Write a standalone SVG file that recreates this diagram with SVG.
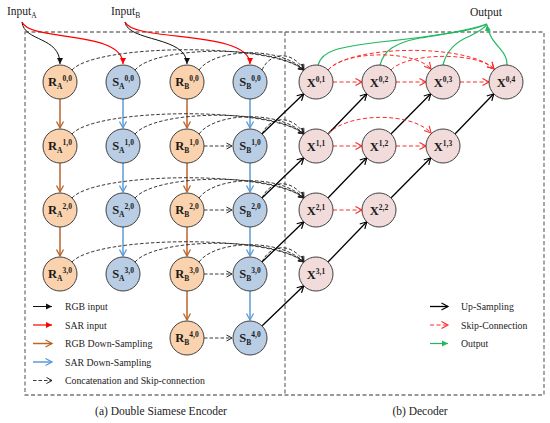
<svg xmlns="http://www.w3.org/2000/svg" width="550" height="423" viewBox="0 0 550 423">
<style>
.frame{fill:none;stroke:#777;stroke-width:1.3;stroke-dasharray:4 2.5}
.nr{fill:#fad3ae;stroke:#404040;stroke-width:1}
.ns{fill:#b9cde5;stroke:#404040;stroke-width:1}
.nx{fill:#f2dcdb;stroke:#404040;stroke-width:1}
.lb{font-family:"Liberation Serif",serif;font-weight:bold;font-size:12.5px;fill:#1a1a1a}
.sm{font-size:7.5px}
.tx{font-family:"Liberation Serif",serif;fill:#222}
.down-r{stroke:#b9652b;stroke-width:1.5;fill:none;marker-end:url(#vbr)}
.down-s{stroke:#5b9bd5;stroke-width:1.5;fill:none;marker-end:url(#vbl)}
.up{stroke:#000;stroke-width:1.3;fill:none;marker-end:url(#vk)}
.cat{stroke:#222;stroke-width:0.9;fill:none;stroke-dasharray:3.5 2;marker-end:url(#vk2)}
.skip{stroke:#ff2a2a;stroke-width:1;fill:none;stroke-dasharray:4 2.5;marker-end:url(#vrd)}
.out{stroke:#22b860;stroke-width:1.2;fill:none}
.inb{stroke:#111;stroke-width:1;fill:none;marker-end:url(#tk)}
.inr{stroke:#ff0000;stroke-width:1.2;fill:none;marker-end:url(#tr)}
</style>
<defs>
<marker id="vk" markerWidth="9" markerHeight="9" refX="7.5" refY="4.5" orient="auto" markerUnits="userSpaceOnUse"><path d="M1,1 L7.5,4.5 L1,8" fill="none" stroke="#000" stroke-width="1.2"/></marker>
<marker id="vk2" markerWidth="9" markerHeight="9" refX="7" refY="4.5" orient="auto" markerUnits="userSpaceOnUse"><path d="M1.5,1.5 L7,4.5 L1.5,7.5" fill="none" stroke="#222" stroke-width="1"/></marker>
<marker id="vbr" markerWidth="9" markerHeight="9" refX="7.5" refY="4.5" orient="auto" markerUnits="userSpaceOnUse"><path d="M1,1 L7.5,4.5 L1,8" fill="none" stroke="#b9652b" stroke-width="1.3"/></marker>
<marker id="vbl" markerWidth="9" markerHeight="9" refX="7.5" refY="4.5" orient="auto" markerUnits="userSpaceOnUse"><path d="M1,1 L7.5,4.5 L1,8" fill="none" stroke="#5b9bd5" stroke-width="1.3"/></marker>
<marker id="vrd" markerWidth="9" markerHeight="9" refX="7.5" refY="4.5" orient="auto" markerUnits="userSpaceOnUse"><path d="M1,1 L7.5,4.5 L1,8" fill="none" stroke="#ff2a2a" stroke-width="1.1"/></marker>
<marker id="tk" markerWidth="8" markerHeight="8" refX="6" refY="3.5" orient="auto" markerUnits="userSpaceOnUse"><path d="M0,0.5 L6,3.5 L0,6.5 z" fill="#111"/></marker>
<marker id="tr" markerWidth="8" markerHeight="8" refX="6" refY="3.5" orient="auto" markerUnits="userSpaceOnUse"><path d="M0,0.5 L6,3.5 L0,6.5 z" fill="#ff0000"/></marker>
<marker id="tg" markerWidth="8" markerHeight="8" refX="6" refY="3.5" orient="auto" markerUnits="userSpaceOnUse"><path d="M0,0.5 L6,3.5 L0,6.5 z" fill="#22b860"/></marker>
</defs>
<rect width="550" height="423" fill="#fff"/>

<g id="frames">
<rect class="frame" x="25" y="32" width="519" height="363"/>
<line class="frame" x1="285" y1="32" x2="285" y2="395"/>
</g>

<g id="connectors">
<!-- inputs -->
<path class="inb" d="M22,22 C24,42 60,36 60,64"/>
<path class="inr" d="M22,22 C30,42 123,30 123,64"/>
<path class="inb" d="M125,22 C128,42 187,36 187,64"/>
<path class="inr" d="M125,22 C133,42 250,30 250,64"/>
<!-- outputs -->
<path class="out" d="M318,65 C322,50 340,47 380,42 C430,37 470,30 487,24"/>
<path class="out" d="M380,65 C384,50 395,43 420,38 C450,33 475,30 487,24"/>
<path class="out" d="M443,65 C446,52 455,42 470,36 C480,31 485,28 487,24"/>
<path class="out" d="M507,65 C508,50 490,45 487,25" marker-end="url(#tg)"/>
<!-- down-sampling -->
<path class="down-r" d="M60,99 V128"/>
<path class="down-r" d="M60,163 V192"/>
<path class="down-r" d="M60,227 V256"/>
<path class="down-s" d="M123,99 V128"/>
<path class="down-s" d="M123,163 V192"/>
<path class="down-s" d="M123,227 V256"/>
<path class="down-r" d="M187,99 V128"/>
<path class="down-r" d="M187,163 V192"/>
<path class="down-r" d="M187,227 V256"/>
<path class="down-r" d="M187,291 V320"/>
<path class="down-s" d="M250,99 V128"/>
<path class="down-s" d="M250,163 V192"/>
<path class="down-s" d="M250,227 V256"/>
<path class="down-s" d="M250,291 V320"/>
<!-- RB -> SB concatenation -->
<path class="cat" d="M204,146 H232"/>
<path class="cat" d="M204,210 H232"/>
<path class="cat" d="M204,274 H232"/>
<path class="cat" d="M204,338 H232"/>
<!-- encoder -> X^{i,1} skip arcs -->
<path class="cat" d="M72,70 C95,44 270,42 304,70"/>
<path class="cat" d="M135,70 C155,46 272,44 304,70"/>
<path class="cat" d="M199,70 C215,48 280,46 304,70"/>
<path class="cat" d="M262,70 C270,52 292,50 304,70"/>
<path class="cat" d="M72,134 C95,108 270,106 304,134"/>
<path class="cat" d="M135,134 C155,110 272,108 304,134"/>
<path class="cat" d="M199,134 C215,112 280,110 304,134"/>
<path class="cat" d="M262,134 C270,116 292,114 304,134"/>
<path class="cat" d="M72,198 C95,172 270,170 304,198"/>
<path class="cat" d="M135,198 C155,174 272,172 304,198"/>
<path class="cat" d="M199,198 C215,176 280,174 304,198"/>
<path class="cat" d="M262,198 C270,180 292,178 304,198"/>
<path class="cat" d="M72,262 C95,236 270,234 304,262"/>
<path class="cat" d="M135,262 C155,238 272,236 304,262"/>
<path class="cat" d="M199,262 C215,240 280,238 304,262"/>
<path class="cat" d="M262,262 C270,244 292,242 304,262"/>
<!-- up-sampling -->
<path class="up" d="M262.2,133.8 L303.8,93.8"/>
<path class="up" d="M262.2,197.8 L303.8,157.8"/>
<path class="up" d="M262.2,261.8 L303.8,221.8"/>
<path class="up" d="M262.2,325.8 L303.8,285.8"/>
<path class="up" d="M328.2,133.8 L366.8,93.8"/>
<path class="up" d="M328.2,197.8 L366.8,157.8"/>
<path class="up" d="M328.2,261.8 L366.8,221.8"/>
<path class="up" d="M391.2,133.8 L430.8,93.8"/>
<path class="up" d="M391.2,197.8 L430.8,157.8"/>
<path class="up" d="M455.2,133.8 L493.8,93.8"/>
<!-- decoder skip -->
<path class="skip" d="M333,82 H362"/>
<path class="skip" d="M396,82 H426"/>
<path class="skip" d="M460,82 H489"/>
<path class="skip" d="M333,146 H362"/>
<path class="skip" d="M396,146 H426"/>
<path class="skip" d="M333,210 H362"/>
<path class="skip" d="M328,70 C345,50 415,50 431,69"/>
<path class="skip" d="M328,70 C352,44 470,44 494,69"/>
<path class="skip" d="M391,70 C408,52 478,52 494,69"/>
<path class="skip" d="M328,134 C348,112 412,112 431,133"/>
</g>

<g id="RA00"><circle class="nr" cx="60" cy="82" r="17"/><text class="lb" x="60" y="86" text-anchor="middle">R<tspan class="sm" dy="3">A</tspan><tspan class="sm" dy="-8">0,0</tspan></text></g>
<g id="RA10"><circle class="nr" cx="60" cy="146" r="17"/><text class="lb" x="60" y="150" text-anchor="middle">R<tspan class="sm" dy="3">A</tspan><tspan class="sm" dy="-8">1,0</tspan></text></g>
<g id="RA20"><circle class="nr" cx="60" cy="210" r="17"/><text class="lb" x="60" y="214" text-anchor="middle">R<tspan class="sm" dy="3">A</tspan><tspan class="sm" dy="-8">2,0</tspan></text></g>
<g id="RA30"><circle class="nr" cx="60" cy="274" r="17"/><text class="lb" x="60" y="278" text-anchor="middle">R<tspan class="sm" dy="3">A</tspan><tspan class="sm" dy="-8">3,0</tspan></text></g>

<g id="SA00"><circle class="ns" cx="123" cy="82" r="17"/><text class="lb" x="123" y="86" text-anchor="middle">S<tspan class="sm" dy="3">A</tspan><tspan class="sm" dy="-8">0,0</tspan></text></g>
<g id="SA10"><circle class="ns" cx="123" cy="146" r="17"/><text class="lb" x="123" y="150" text-anchor="middle">S<tspan class="sm" dy="3">A</tspan><tspan class="sm" dy="-8">1,0</tspan></text></g>
<g id="SA20"><circle class="ns" cx="123" cy="210" r="17"/><text class="lb" x="123" y="214" text-anchor="middle">S<tspan class="sm" dy="3">A</tspan><tspan class="sm" dy="-8">2,0</tspan></text></g>
<g id="SA30"><circle class="ns" cx="123" cy="274" r="17"/><text class="lb" x="123" y="278" text-anchor="middle">S<tspan class="sm" dy="3">A</tspan><tspan class="sm" dy="-8">3,0</tspan></text></g>

<g id="RB00"><circle class="nr" cx="187" cy="82" r="17"/><text class="lb" x="187" y="86" text-anchor="middle">R<tspan class="sm" dy="3">B</tspan><tspan class="sm" dy="-8">0,0</tspan></text></g>
<g id="RB10"><circle class="nr" cx="187" cy="146" r="17"/><text class="lb" x="187" y="150" text-anchor="middle">R<tspan class="sm" dy="3">B</tspan><tspan class="sm" dy="-8">1,0</tspan></text></g>
<g id="RB20"><circle class="nr" cx="187" cy="210" r="17"/><text class="lb" x="187" y="214" text-anchor="middle">R<tspan class="sm" dy="3">B</tspan><tspan class="sm" dy="-8">2,0</tspan></text></g>
<g id="RB30"><circle class="nr" cx="187" cy="274" r="17"/><text class="lb" x="187" y="278" text-anchor="middle">R<tspan class="sm" dy="3">B</tspan><tspan class="sm" dy="-8">3,0</tspan></text></g>
<g id="RB40"><circle class="nr" cx="187" cy="338" r="17"/><text class="lb" x="187" y="342" text-anchor="middle">R<tspan class="sm" dy="3">B</tspan><tspan class="sm" dy="-8">4,0</tspan></text></g>

<g id="SB00"><circle class="ns" cx="250" cy="82" r="17"/><text class="lb" x="250" y="86" text-anchor="middle">S<tspan class="sm" dy="3">B</tspan><tspan class="sm" dy="-8">0,0</tspan></text></g>
<g id="SB10"><circle class="ns" cx="250" cy="146" r="17"/><text class="lb" x="250" y="150" text-anchor="middle">S<tspan class="sm" dy="3">B</tspan><tspan class="sm" dy="-8">1,0</tspan></text></g>
<g id="SB20"><circle class="ns" cx="250" cy="210" r="17"/><text class="lb" x="250" y="214" text-anchor="middle">S<tspan class="sm" dy="3">B</tspan><tspan class="sm" dy="-8">2,0</tspan></text></g>
<g id="SB30"><circle class="ns" cx="250" cy="274" r="17"/><text class="lb" x="250" y="278" text-anchor="middle">S<tspan class="sm" dy="3">B</tspan><tspan class="sm" dy="-8">3,0</tspan></text></g>
<g id="SB40"><circle class="ns" cx="250" cy="338" r="17"/><text class="lb" x="250" y="342" text-anchor="middle">S<tspan class="sm" dy="3">B</tspan><tspan class="sm" dy="-8">4,0</tspan></text></g>

<g id="X01"><circle class="nx" cx="316" cy="82" r="17"/><text class="lb" x="316" y="86.5" text-anchor="middle">X<tspan class="sm" dy="-5">0,1</tspan></text></g>
<g id="X02"><circle class="nx" cx="379" cy="82" r="17"/><text class="lb" x="379" y="86.5" text-anchor="middle">X<tspan class="sm" dy="-5">0,2</tspan></text></g>
<g id="X03"><circle class="nx" cx="443" cy="82" r="17"/><text class="lb" x="443" y="86.5" text-anchor="middle">X<tspan class="sm" dy="-5">0,3</tspan></text></g>
<g id="X04"><circle class="nx" cx="506" cy="82" r="17"/><text class="lb" x="506" y="86.5" text-anchor="middle">X<tspan class="sm" dy="-5">0,4</tspan></text></g>
<g id="X11"><circle class="nx" cx="316" cy="146" r="17"/><text class="lb" x="316" y="150.5" text-anchor="middle">X<tspan class="sm" dy="-5">1,1</tspan></text></g>
<g id="X12"><circle class="nx" cx="379" cy="146" r="17"/><text class="lb" x="379" y="150.5" text-anchor="middle">X<tspan class="sm" dy="-5">1,2</tspan></text></g>
<g id="X13"><circle class="nx" cx="443" cy="146" r="17"/><text class="lb" x="443" y="150.5" text-anchor="middle">X<tspan class="sm" dy="-5">1,3</tspan></text></g>
<g id="X21"><circle class="nx" cx="316" cy="210" r="17"/><text class="lb" x="316" y="214.5" text-anchor="middle">X<tspan class="sm" dy="-5">2,1</tspan></text></g>
<g id="X22"><circle class="nx" cx="379" cy="210" r="17"/><text class="lb" x="379" y="214.5" text-anchor="middle">X<tspan class="sm" dy="-5">2,2</tspan></text></g>
<g id="X31"><circle class="nx" cx="316" cy="274" r="17"/><text class="lb" x="316" y="278.5" text-anchor="middle">X<tspan class="sm" dy="-5">3,1</tspan></text></g>

<g id="labels">
<text class="tx" x="7" y="15" font-size="11.5">Input<tspan font-size="7.5" dy="3">A</tspan></text>
<text class="tx" x="111" y="15" font-size="11.5">Input<tspan font-size="7.5" dy="3">B</tspan></text>
<text class="tx" x="486" y="16" font-size="11.5" text-anchor="middle">Output</text>
<text class="tx" x="161" y="415" font-size="11.5" text-anchor="middle">(a) Double Siamese Encoder</text>
<text class="tx" x="420" y="415" font-size="11.5" text-anchor="middle">(b) Decoder</text>
</g>

<g id="legend-encoder">
<path d="M33,306.5 H52" class="inb"/>
<text class="tx" x="65" y="310" font-size="9.8">RGB input</text>
<path d="M33,325 H52" class="inr"/>
<text class="tx" x="65" y="328.5" font-size="9.8">SAR input</text>
<path d="M33,343.5 H52" class="down-r"/>
<text class="tx" x="65" y="347" font-size="9.8">RGB Down-Sampling</text>
<path d="M33,362 H52" class="down-s"/>
<text class="tx" x="65" y="365.5" font-size="9.8">SAR Down-Sampling</text>
<path d="M33,380.5 H52" class="cat"/>
<text class="tx" x="65" y="384" font-size="9.8">Concatenation and Skip-connection</text>
</g>

<g id="legend-decoder">
<path d="M430,306.5 H448" class="up"/>
<text class="tx" x="461" y="310" font-size="9.8">Up-Sampling</text>
<path d="M430,325 H448" class="skip"/>
<text class="tx" x="461" y="328.5" font-size="9.8">Skip-Connection</text>
<path d="M430,343.5 H448" class="out" marker-end="url(#tg)"/>
<text class="tx" x="461" y="347" font-size="9.8">Output</text>
</g>
</svg>
